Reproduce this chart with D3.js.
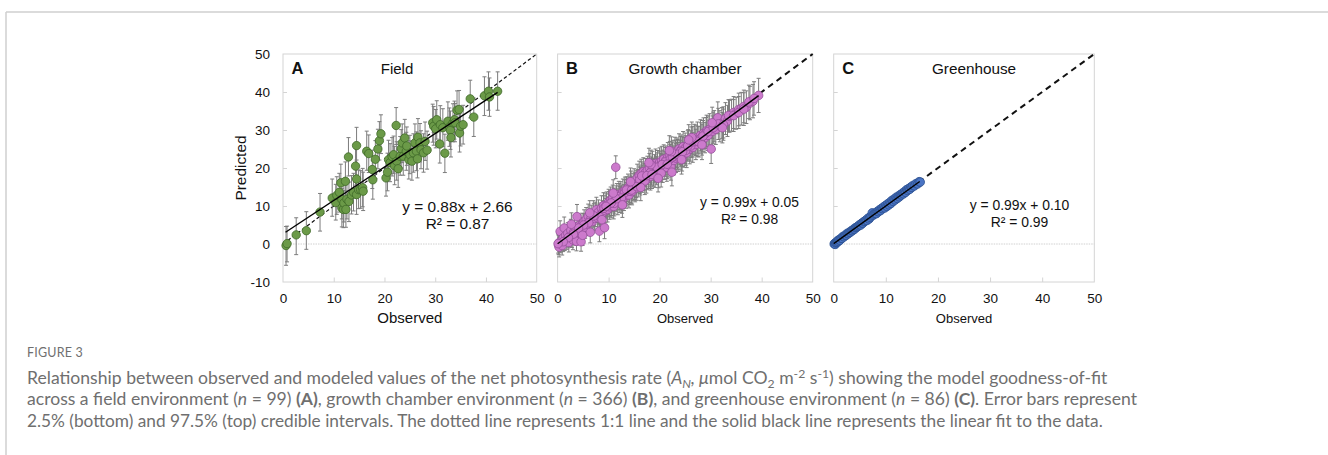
<!DOCTYPE html>
<html>
<head>
<meta charset="utf-8">
<script src="https://cdn.jsdelivr.net/npm/d3@7"></script>
<style>
  body { margin: 0; background: #fff; }
  svg { display: block; }
  text { font-family: Arial, "Liberation Sans", sans-serif; fill: #111; }
</style>
</head>
<body>
<svg id="fig" width="1328" height="455"></svg>
<script>
// observed, predicted, error below, error above
const fieldPts = [
  [0.6,-0.4,5.2,5.0],[0.8,0.1,4.8,4.6],[2.6,2.4,5.2,4.5],[4.6,3.5,4.9,5.0],[7.3,8.4,5.0,4.9],
  [9.7,12.1,4.8,5.0],[10.4,10.9,4.6,4.8],[10.6,12.8,5.0,4.9],[11.1,13.6,5.2,5.0],[11.4,16.1,5.1,4.9],
  [11.6,9.5,5.0,5.1],[11.6,11.7,5.1,5.0],[11.9,9.1,4.8,4.9],[12.0,10.8,5.0,5.2],[12.3,16.5,5.0,5.1],
  [12.4,9.1,4.7,4.9],[12.6,11.8,5.2,5.0],[12.9,22.9,5.0,5.1],[13.0,11.2,5.3,5.1],[13.5,12.9,5.0,5.1],
  [13.9,13.6,4.9,5.0],[14.3,20.5,5.0,5.3],[14.5,25.9,5.1,4.8],[14.5,17.1,5.1,5.0],[14.5,13.0,5.2,5.1],
  [14.9,14.3,5.0,5.2],[15.3,14.3,4.9,5.0],[15.7,14.8,5.0,5.1],[15.8,13.9,5.1,5.0],[16.5,24.4,5.0,5.3],
  [16.9,23.8,5.0,4.9],[17.6,19.6,5.0,5.1],[17.7,16.9,5.1,5.0],[18.2,22.3,5.1,4.9],[18.7,25.0,5.2,5.2],
  [19.0,27.2,5.1,5.0],[19.3,29.0,5.2,5.0],[20.3,17.4,4.8,5.1],[20.6,18.9,4.9,5.0],[20.8,22.2,5.0,5.1],
  [21.1,21.4,5.0,5.0],[21.5,23.0,5.1,5.0],[21.8,23.5,5.0,4.9],[22.0,20.6,5.0,5.1],[22.3,31.2,5.0,4.7],
  [22.4,21.8,5.0,5.1],[22.7,19.8,4.9,5.0],[23.1,23.1,5.0,5.2],[23.3,25.1,5.1,5.0],[23.5,26.6,5.2,5.0],
  [23.7,23.1,5.0,5.1],[24.0,27.9,5.2,4.9],[24.3,24.4,5.0,5.0],[24.4,25.8,5.1,5.0],[24.8,22.2,5.1,5.0],
  [25.0,23.5,5.0,5.1],[25.4,21.8,5.0,5.2],[25.7,24.0,5.1,5.0],[26.0,26.6,5.0,5.0],[26.3,24.4,5.1,5.1],
  [26.5,22.4,5.0,5.0],[26.6,28.1,5.2,4.9],[27.0,26.6,5.0,5.1],[27.2,24.8,5.0,5.0],[27.7,24.0,5.1,5.0],
  [28.0,27.0,5.0,5.1],[28.4,24.7,5.0,5.0],[29.5,31.9,5.1,4.9],[29.7,31.0,5.0,5.2],[30.1,30.3,5.0,5.1],
  [30.3,32.7,5.1,5.0],[30.9,26.3,5.0,5.1],[31.0,31.4,5.1,5.0],[31.5,30.6,5.0,5.0],[31.9,23.9,5.1,5.0],
  [32.5,32.3,5.0,5.1],[32.8,30.8,5.1,5.0],[33.0,29.9,5.0,5.1],[33.1,28.0,5.1,5.2],[33.5,31.9,5.0,5.0],
  [33.8,32.7,5.1,4.9],[33.9,31.9,5.0,5.1],[34.3,35.2,5.0,5.1],[34.7,35.4,5.1,5.0],[34.8,29.2,5.0,5.1],
  [35.0,31.0,5.2,5.0],[35.5,31.4,5.1,5.1],[36.9,38.2,5.0,4.9],[37.6,33.4,5.1,5.0],[39.7,39.0,5.2,5.0],
  [40.5,40.2,5.0,5.1],[40.7,38.7,5.1,5.0],[42.3,40.2,5.0,5.1]
];

// observed, predicted, half interval
const chamberPts = [
  [0.2,-0.3,2.5],[0.4,0.5,2.4],[0.3,-0.8,2.6],[0.6,0.2,2.5],[0.5,3.3,2.8],[0.9,-0.4,2.5],[1.1,1.6,2.7],
  [1.3,4.2,2.9],[1.4,0.9,2.6],[1.6,2.3,2.7],[1.8,1.2,2.6],[2.0,2.8,2.8],[2.2,0.4,2.5],[2.4,2.1,2.7],
  [2.6,3.6,2.9],[2.8,1.8,2.7],[3.0,1.1,2.6],[3.1,3.0,2.8],[3.3,4.6,3.0],[3.5,2.4,2.7],[3.7,0.7,2.5],
  [3.8,7.2,3.2],[4.0,3.3,2.9],[4.2,4.8,3.0],[4.4,2.9,2.8],[4.6,0.6,2.5],[4.8,5.1,3.0],[5.0,4.0,2.9],
  [5.2,5.9,3.1],[5.4,4.4,2.9],[5.6,6.5,3.1],[5.8,5.2,3.0],[6.0,7.3,3.2],[6.2,6.0,3.1],[6.4,3.1,2.8],
  [6.6,7.0,3.2],[6.8,5.9,3.1],[7.0,8.1,3.3],[7.2,6.7,3.1],[7.4,7.8,3.2],[7.6,9.0,3.3],[7.8,6.9,3.1],
  [8.0,8.4,3.2],[8.2,3.4,2.8],[8.4,7.6,3.2],[8.6,9.4,3.3],[8.8,8.2,3.2],[9.0,10.1,3.4],[9.2,4.3,2.9],
  [9.4,8.8,3.2],[9.6,10.3,3.4],[9.8,9.1,3.3],[10.0,11.0,3.4],[10.2,9.8,3.3],[10.4,11.6,3.4],[10.6,10.2,3.3],
  [10.8,12.0,3.5],[11.0,9.9,3.3],[11.2,11.3,3.4],[11.4,20.2,3.0],[11.6,12.4,3.5],[11.8,11.1,3.4],[12.0,13.0,3.5],
  [12.2,11.7,3.4],[12.4,12.9,3.5],[12.6,11.5,3.4],[12.8,13.6,3.5],[13.0,12.2,3.4],[13.2,14.1,3.5],[13.4,12.8,3.4],
  [13.6,13.5,3.5],[13.8,14.8,3.6],[14.0,12.9,3.4],[14.2,14.4,3.5],[14.4,15.6,3.6],[14.6,13.8,3.5],[14.8,15.0,3.5],
  [15.0,16.2,3.6],[15.2,14.6,3.5],[15.4,15.8,3.6],[15.6,17.3,3.7],[15.8,16.0,3.6],[16.0,18.1,3.7],[16.2,16.5,3.6],
  [16.4,18.6,3.7],[16.6,17.2,3.6],[16.8,19.0,3.7],[17.0,17.6,3.6],[17.2,18.8,3.7],[17.4,17.0,3.6],[17.6,19.4,3.7],
  [17.8,18.2,3.6],[18.0,20.0,3.8],[18.2,17.8,3.6],[18.4,19.2,3.7],[18.6,20.6,3.8],[18.8,18.9,3.7],[19.0,19.8,3.7],
  [19.2,21.2,3.8],[19.4,19.3,3.7],[19.6,20.8,3.8],[19.8,18.4,3.6],[20.0,21.5,3.8],[20.2,20.1,3.7],[20.4,21.9,3.8],
  [20.6,19.9,3.7],[20.8,22.3,3.8],[21.0,20.7,3.7],[21.2,22.0,3.8],[21.4,20.2,3.7],[21.6,22.8,3.9],[21.8,21.4,3.8],
  [22.0,23.1,3.9],[22.2,20.5,3.7],[22.4,18.9,3.6],[22.6,23.4,3.9],[22.8,22.0,3.8],[23.0,24.2,3.9],[23.2,22.6,3.8],
  [23.4,24.0,3.9],[23.6,22.9,3.8],[23.8,25.0,4.0],[24.0,23.4,3.9],[24.2,24.8,3.9],[24.4,23.0,3.8],[24.6,25.6,4.0],
  [24.8,24.1,3.9],[25.0,25.2,4.0],[25.3,24.0,3.9],[25.6,26.1,4.0],[25.9,25.0,3.9],[26.2,26.8,4.0],[26.5,25.4,3.9],
  [26.8,27.5,4.0],[27.1,26.2,4.0],[27.4,28.0,4.1],[27.7,26.9,4.0],[28.0,28.6,4.1],[28.3,27.4,4.0],[28.6,29.1,4.1],
  [28.9,28.0,4.0],[29.2,29.8,4.1],[29.5,28.6,4.0],[29.8,30.2,4.1],[30.1,25.0,3.8],[30.4,29.7,4.0],[30.7,31.0,4.1],
  [31.0,30.2,4.0],[31.4,33.2,4.2],[31.8,31.0,4.1],[32.2,31.8,4.1],[32.5,32.0,4.1],[32.9,33.0,4.2],[33.3,32.4,4.1],
  [33.7,33.6,4.2],[34.1,33.9,4.2],[34.5,34.6,4.2],[35.0,34.4,4.2],[35.5,35.4,4.3],[36.0,35.6,4.3],[36.5,36.2,4.3],
  [37.0,36.0,4.3],[37.7,37.1,4.4],[38.3,37.6,4.4],[39.4,39.1,4.5],
  [12.1,12.5,3.4],[13.1,13.4,3.5],[14.1,13.9,3.5],[15.1,15.3,3.6],[16.1,16.9,3.6],[17.1,16.6,3.6],[18.1,18.7,3.7],
  [19.1,18.6,3.7],[20.1,20.6,3.8],[21.1,21.6,3.8],[22.1,22.4,3.8],[23.1,23.4,3.9],[24.1,24.4,3.9],[25.1,24.6,3.9],
  [26.1,25.8,4.0],[27.1,27.3,4.0],[28.1,27.9,4.0],[29.1,29.2,4.1],[10.1,10.5,3.3],[11.1,10.7,3.3],[9.1,9.4,3.3],
  [8.1,7.3,3.2],[7.1,7.4,3.2],[6.1,5.6,3.0],[5.1,5.0,3.0],[4.1,4.2,2.9],[3.1,2.6,2.8],[2.1,1.7,2.7],
  [1.1,0.6,2.6],[0.1,0.1,2.5],[16.5,17.9,3.7],[17.5,18.0,3.7],[18.5,18.3,3.7],[19.5,20.2,3.8],[20.5,20.9,3.8],
  [21.5,21.0,3.8],[22.5,22.9,3.9],[23.5,23.6,3.9],[24.5,24.3,3.9],[25.5,25.8,4.0],[26.5,26.9,4.0],[27.5,27.0,4.0],
  [28.5,28.4,4.1],[29.5,29.6,4.1],[30.5,30.6,4.1],[31.5,31.6,4.1],[32.5,31.4,4.1],[33.5,33.8,4.2],[34.5,33.8,4.2],
  [35.5,34.6,4.2],[36.5,35.5,4.3],[37.5,37.4,4.4],[38.5,38.3,4.4],[13.5,14.2,3.5],[14.5,14.2,3.5],[15.5,15.1,3.6],
  [12.5,12.1,3.4],[11.5,11.9,3.4],[10.5,10.8,3.3],[9.5,9.9,3.3],
  [6.3,8.2,3.2],[8.7,6.4,3.0],[10.9,13.4,3.5],[12.7,10.3,3.3],[14.3,16.4,3.6],[16.3,14.9,3.5],[18.3,20.9,3.8],
  [20.3,18.6,3.6],[22.3,24.3,3.9],[24.3,22.2,3.8],[26.3,28.0,4.1],[28.3,26.1,3.9],[30.3,31.9,4.1],[32.3,30.6,4.0],
  [2.7,5.2,3.0],[4.9,2.3,2.7],[17.9,21.4,3.8],[21.9,24.6,3.9],[25.7,27.4,4.0],[19.7,17.3,3.6]
];

// observed, predicted, half interval
const greenPts = [
  [0.1,0.0,0.7],[0.2,0.2,0.7],[0.3,-0.1,0.7],[0.4,0.3,0.7],[0.5,0.4,0.7],[0.6,0.6,0.7],[0.7,0.5,0.7],
  [0.8,0.9,0.7],[0.9,0.7,0.7],[1.0,1.1,0.7],[1.2,1.0,0.7],[1.4,1.5,0.7],[1.6,1.5,0.7],[1.8,2.0,0.7],
  [2.0,1.9,0.7],[2.2,2.3,0.7],[2.4,2.3,0.7],[2.6,2.8,0.8],[2.8,2.7,0.8],[3.0,3.1,0.8],[3.2,3.1,0.8],
  [3.4,3.5,0.8],[3.6,3.5,0.8],[3.8,3.9,0.8],[4.0,3.9,0.8],[4.2,4.3,0.8],[4.4,4.4,0.8],[4.6,4.6,0.8],
  [4.8,4.8,0.8],[5.0,5.1,0.8],[5.2,5.0,0.8],[5.4,5.5,0.8],[5.6,5.5,0.8],[5.8,5.9,0.8],[6.0,6.0,0.8],
  [6.2,6.3,0.8],[6.4,6.2,0.8],[6.6,6.8,0.8],[6.8,6.6,0.8],[7.0,7.0,0.8],[7.2,7.4,0.8],[7.4,8.2,0.8],
  [7.6,7.6,0.8],[7.8,7.9,0.8],[8.0,8.1,0.8],[8.2,8.0,0.8],[8.4,8.6,0.8],[8.6,8.5,0.8],[8.8,9.0,0.8],
  [9.0,8.8,0.8],[9.2,9.4,0.8],[9.4,9.3,0.8],[9.6,9.8,0.8],[9.8,9.5,0.8],[10.0,10.2,0.8],[10.2,9.9,0.8],
  [10.4,10.6,0.8],[10.6,10.3,0.8],[10.8,11.0,0.8],[11.0,10.7,0.8],[11.2,11.5,0.8],[11.4,11.2,0.8],[11.6,11.8,0.8],
  [11.8,11.6,0.8],[12.0,12.3,0.8],[12.2,12.0,0.8],[12.4,12.6,0.8],[12.6,12.4,0.8],[12.8,13.0,0.8],[13.0,12.9,0.8],
  [13.2,13.4,0.8],[13.4,13.2,0.8],[13.6,13.8,0.8],[13.8,13.6,0.8],[14.0,14.3,0.8],[14.2,14.1,0.8],[14.4,14.6,0.8],
  [14.6,14.4,0.8],[14.8,15.0,0.8],[15.0,14.9,0.8],[15.2,15.4,0.8],[15.5,15.3,0.8],[15.8,15.9,0.8],[16.1,15.8,0.8],
  [16.4,16.4,0.8],[16.6,16.3,0.8]
];

const panelLetters = ["A", "B", "C"];
const panelTitles = ["Field", "Growth chamber", "Greenhouse"];
const fitSlope = [0.88, 0.99, 0.99];
const fitIntercept = [2.66, 0.05, 0.10];
const fitRange = [[0.5, 42.3], [0, 39.4], [0, 16.5]];
const eqLabels = ["y = 0.88x + 2.66", "y = 0.99x + 0.05", "y = 0.99x + 0.10"];
const r2Labels = ["R² = 0.87", "R² = 0.98", "R² = 0.99"];
const xTicks = [0, 10, 20, 30, 40, 50];
const yTicks = [-10, 0, 10, 20, 30, 40, 50];
const xLabel = "Observed";
const yLabel = "Predicted";

let svg = d3.select("#fig");

function getConfig() {
  let top = 54, bottom = 282;
  let panels = [
    { left: 283, right: 536.7, fill: "#6b9a48", stroke: "#3f6a28", r: 4.2, dash: "3.5,2.5", dashW: 1.2,
      eqX: 457.5, eqY: 211.5, eqSize: 15.4, r2Y: 229, titleX: 397, titleSize: 15, obsSize: 15, tickSize: 13.5 },
    { left: 557.6, right: 812.7, fill: "#cc7acc", stroke: "#96509a", r: 4.3, dash: "6,4.5", dashW: 2,
      eqX: 749.5, eqY: 206.5, eqSize: 13.8, r2Y: 223.5, titleX: 685, titleSize: 15.3, obsSize: 13, tickSize: 13.5 },
    { left: 833.7, right: 1094.3, fill: "#4a74c4", stroke: "#2c508f", r: 4.3, dash: "6,4.5", dashW: 2,
      eqX: 1019.5, eqY: 210, eqSize: 13.9, r2Y: 226.5, titleX: 974, titleSize: 15.3, obsSize: 13, tickSize: 13.5 }
  ];
  return { top, bottom, panels };
}

function drawFrame() {
  svg.append("line").attr("x1", 6).attr("x2", 1328).attr("y1", 12).attr("y2", 12)
    .attr("stroke", "#cfcfcf").attr("stroke-width", 1.5);
  svg.append("line").attr("x1", 6).attr("x2", 6).attr("y1", 12).attr("y2", 455)
    .attr("stroke", "#cfcfcf").attr("stroke-width", 1.5);
}

function drawPanel(i, pts, config) {
  let p = config.panels[i];
  let x = d3.scaleLinear().domain([0, 50]).range([p.left, p.right]);
  let y = d3.scaleLinear().domain([-10, 50]).range([config.bottom, config.top]);
  let g = svg.append("g");

  // box
  g.append("rect").attr("x", p.left).attr("y", config.top)
    .attr("width", p.right - p.left).attr("height", config.bottom - config.top)
    .attr("fill", "none").attr("stroke", "#d4d4d4").attr("stroke-width", 1);

  // zero line
  g.append("line").attr("x1", x(0)).attr("x2", x(50)).attr("y1", y(0)).attr("y2", y(0))
    .attr("stroke", "#d0d0d0").attr("stroke-width", 1).attr("stroke-dasharray", "1.5,1");

  // axes, ticks pointing inward
  let axisX = d3.axisBottom(x).tickValues(xTicks).tickSize(-4.5).tickPadding(11).tickFormat(d => String(d));
  let gX = g.append("g").attr("transform", `translate(0,${config.bottom})`).call(axisX);
  gX.select(".domain").remove();
  gX.selectAll(".tick line").attr("stroke", "#d4d4d4").filter(d => d == 0 || d == 50).remove();
  gX.selectAll(".tick text").attr("font-size", p.tickSize).attr("fill", "#111");

  let axisY = d3.axisLeft(y).tickValues(yTicks).tickSize(-4).tickPadding(13).tickFormat(d => String(d));
  if (i > 0) axisY.tickFormat("");
  let gY = g.append("g").attr("transform", `translate(${p.left},0)`).call(axisY);
  gY.select(".domain").remove();
  gY.selectAll(".tick line").attr("stroke", "#d4d4d4").filter(d => d == -10 || d == 50 || d == 0).remove();
  gY.selectAll(".tick text").attr("font-size", 13.5).attr("fill", "#111");

  // 1:1 line
  g.append("line").attr("x1", x(0)).attr("y1", y(0)).attr("x2", x(50)).attr("y2", y(50))
    .attr("stroke", "#111").attr("stroke-width", p.dashW).attr("stroke-dasharray", p.dash);

  let lo = d => d[1] - d[2];
  let hi = d => d.length == 4 ? d[1] + d[3] : d[1] + d[2];

  // error bars
  let eb = g.append("g").attr("stroke", "#7c7c7c").attr("stroke-width", 1);
  eb.selectAll(".eb").data(pts).enter().append("path")
    .attr("d", d => {
      let cx = x(d[0]), y0 = y(lo(d)), y1 = y(hi(d));
      return `M${cx},${y0}V${y1}M${cx - 2},${y0}H${cx + 2}M${cx - 2},${y1}H${cx + 2}`;
    })
    .attr("fill", "none");

  // points
  g.selectAll(".pt").data(pts).enter().append("circle")
    .attr("cx", d => x(d[0])).attr("cy", d => y(d[1])).attr("r", p.r)
    .attr("fill", p.fill).attr("stroke", p.stroke).attr("stroke-width", 0.8);

  // linear fit
  let fr = fitRange[i];
  g.append("line")
    .attr("x1", x(fr[0])).attr("y1", y(fitSlope[i] * fr[0] + fitIntercept[i]))
    .attr("x2", x(fr[1])).attr("y2", y(fitSlope[i] * fr[1] + fitIntercept[i]))
    .attr("stroke", "#000").attr("stroke-width", 1.4);

  // texts
  g.append("text").attr("x", p.left + 8.5).attr("y", 74).attr("font-size", 16.5).attr("font-weight", "bold")
    .text(panelLetters[i]);
  g.append("text").attr("x", p.titleX).attr("y", 73.5).attr("text-anchor", "middle").attr("font-size", p.titleSize)
    .text(panelTitles[i]);
  g.append("text").attr("x", p.eqX).attr("y", p.eqY).attr("text-anchor", "middle").attr("font-size", p.eqSize)
    .text(eqLabels[i]);
  g.append("text").attr("x", p.eqX).attr("y", p.r2Y).attr("text-anchor", "middle").attr("font-size", p.eqSize)
    .text(r2Labels[i]);
  g.append("text").attr("x", (p.left + p.right) / 2).attr("y", 323).attr("text-anchor", "middle")
    .attr("font-size", p.obsSize).text(xLabel);

  if (i == 0) {
    g.append("text").attr("transform", `translate(245.5,${y(20)}) rotate(-90)`)
      .attr("text-anchor", "middle").attr("font-size", 15.4).text(yLabel);
  }
}

function drawCaption() {
  let cap = svg.append("g").attr("class", "caption");
  let gray = "#6f6f6f";
  let font = "Lato, 'Open Sans', sans-serif";
  cap.append("text").attr("x", 27).attr("y", 357).style("font-family", font).attr("font-size", 12.5)
    .style("fill", gray).attr("letter-spacing", 0.2).text("FIGURE 3");

  let lines = [
    { y: 383.5, w: 1081, segs: [
      { t: "Relationship between observed and modeled values of the net photosynthesis rate (" },
      { t: "A", it: 1 }, { t: "N", it: 1, sub: 1 }, { t: ", ", it: 1 }, { t: "μ", it: 1 }, { t: "mol CO" },
      { t: "2", sub: 1 }, { t: " m" }, { t: "-2", sup: 1 }, { t: " s" }, { t: "-1", sup: 1 },
      { t: ") showing the model goodness-of-fit" }] },
    { y: 405, w: 1110, segs: [
      { t: "across a field environment (" }, { t: "n", it: 1 }, { t: " = 99) " }, { t: "(A)", b: 1 },
      { t: ", growth chamber environment (" }, { t: "n", it: 1 }, { t: " = 366) " }, { t: "(B)", b: 1 },
      { t: ", and greenhouse environment (" }, { t: "n", it: 1 }, { t: " = 86) " }, { t: "(C)", b: 1 },
      { t: ". Error bars represent" }] },
    { y: 426.5, w: 1077, segs: [
      { t: "2.5% (bottom) and 97.5% (top) credible intervals. The dotted line represents 1:1 line and the solid black line represents the linear fit to the data." }] }
  ];

  lines.forEach(line => {
    let t = cap.append("text").attr("x", 0).attr("y", 0).style("font-family", font)
      .attr("font-size", 16.5).style("fill", gray);
    let shift = 0;
    line.segs.forEach(s => {
      let target = s.sub ? 4 : s.sup ? -6 : 0;
      let ts = t.append("tspan").text(s.t).attr("dy", target - shift);
      shift = target;
      if (s.it) ts.attr("font-style", "italic");
      if (s.b) ts.attr("font-weight", "bold");
      if (s.sub || s.sup) ts.attr("font-size", 11.5);
    });
    let w = t.node().getComputedTextLength();
    t.attr("transform", `translate(27,${line.y}) scale(${line.w / w},1)`);
  });
}

function showData() {
  let config = getConfig();
  drawFrame();
  drawPanel(0, fieldPts, config);
  drawPanel(1, chamberPts, config);
  drawPanel(2, greenPts, config);
  drawCaption();
}

showData();
</script>
</body>
</html>
